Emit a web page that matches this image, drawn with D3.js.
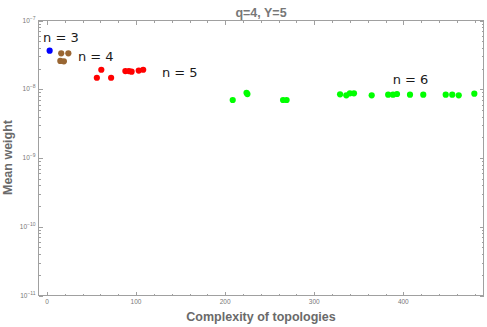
<!DOCTYPE html>
<html>
<head>
<meta charset="utf-8">
<script src="https://cdn.jsdelivr.net/npm/d3@7"></script>
<style>
  html, body { margin: 0; padding: 0; background: #fff; }
  svg { display: block; }
</style>
</head>
<body>
<svg id="chart" width="487" height="327"></svg>
<script>
// ---------------- data ----------------
const title = "q=4, Y=5";
const xLabel = "Complexity of topologies";
const yLabel = "Mean weight";

const seriesNames = ["n3", "n4", "n5", "n6"];
const seriesColors = ["#0000ff", "#996633", "#ff0000", "#00ff00"];

const n3X = [3];
const n3Y = [3.64e-8];

const n4X = [16, 24, 15, 19];
const n4Y = [3.33e-8, 3.33e-8, 2.58e-8, 2.55e-8];

const n5X = [56, 61, 72, 88, 92, 95, 103, 108];
const n5Y = [1.47e-8, 1.92e-8, 1.47e-8, 1.84e-8, 1.84e-8, 1.80e-8, 1.87e-8, 1.92e-8];

const n6X = [208.5, 224, 225, 265, 269, 329, 336, 340, 344.6, 364.5, 383, 388.4, 392.9, 407.5, 422.4, 447.6, 454.9, 462.2, 479.7];
const n6Y = [6.98e-9, 8.9e-9, 8.5e-9, 6.98e-9, 6.98e-9, 8.45e-9, 8.16e-9, 8.73e-9, 8.73e-9, 8.16e-9, 8.34e-9, 8.34e-9, 8.53e-9, 8.34e-9, 8.34e-9, 8.34e-9, 8.34e-9, 8.16e-9, 8.61e-9];

const labelTexts = ["n = 3", "n = 4", "n = 5", "n = 6"];
const labelX = [-4.4, 34.8, 129, 388];
const labelY = [4.86e-8, 2.58e-8, 1.51e-8, 1.19e-8];

const xDomain = [-9.5, 490];
const yDomain = [1e-11, 1e-7];
const xMajorTicks = [0, 100, 200, 300, 400];
const yMajorExps = [-11, -10, -9, -8, -7];

// ---------------- drawing ----------------
const svg = d3.select("#chart");
const L = 38.5, R = 483.5, T = 20.5, B = 295.5;

const x = d3.scaleLinear().domain(xDomain).range([L, R]);
const y = d3.scaleLog().domain(yDomain).range([B, T]);

const axisColor = "#a0a0a0";
const tickColor = "#a0a0a0";
const labelColor = "#6a6a6a";

// minor ticks
const xMinor = d3.range(0, 500, 20).filter(v => v >= xDomain[0] && v <= xDomain[1] && !xMajorTicks.includes(v));
const yMinor = [];
for (let e = -11; e < -7; e++) for (let m = 2; m <= 9; m++) yMinor.push(m * Math.pow(10, e));

const tickG = svg.append("g").attr("stroke", tickColor).attr("stroke-width", 1).attr("shape-rendering", "crispEdges");

// x ticks bottom & top
function xTicks(vals, len) {
  vals.forEach(v => {
    const px = Math.round(x(v)) + 0.5;
    tickG.append("line").attr("x1", px).attr("x2", px).attr("y1", B).attr("y2", B - len);
    tickG.append("line").attr("x1", px).attr("x2", px).attr("y1", T).attr("y2", T + len);
  });
}
xTicks(xMajorTicks, 4);
xTicks(xMinor, 2);

function yTicks(vals, len) {
  vals.forEach(v => {
    const py = Math.round(y(v)) + 0.5;
    tickG.append("line").attr("x1", L).attr("x2", L + len).attr("y1", py).attr("y2", py);
    tickG.append("line").attr("x1", R).attr("x2", R - len).attr("y1", py).attr("y2", py);
  });
}
yTicks(yMajorExps.map(e => Math.pow(10, e)), 4);
yTicks(yMinor, 2);

// frame
svg.append("rect")
  .attr("x", L).attr("y", T).attr("width", R - L).attr("height", B - T)
  .attr("fill", "none").attr("stroke", axisColor).attr("stroke-width", 1)
  .attr("shape-rendering", "crispEdges");

// x tick labels
svg.append("g").selectAll("text").data(xMajorTicks).join("text")
  .attr("x", d => x(d)).attr("y", 304)
  .attr("text-anchor", "middle")
  .attr("font-family", "Liberation Sans, Arial, sans-serif")
  .attr("font-size", 6.5).attr("fill", "#777")
  .text(d => d);

// y tick labels
const yl = svg.append("g").selectAll("text").data(yMajorExps).join("text")
  .attr("x", 35.5).attr("y", d => y(Math.pow(10, d)) + 2)
  .attr("text-anchor", "end")
  .attr("font-family", "Liberation Sans, Arial, sans-serif")
  .attr("font-size", 6.5).attr("fill", "#777");
yl.append("tspan").text("10");
yl.append("tspan").attr("dy", -3).attr("font-size", 5).text(d => "\u2212" + Math.abs(d));

// points
const allSeries = [[n3X, n3Y], [n4X, n4Y], [n5X, n5Y], [n6X, n6Y]];
allSeries.forEach(([xs, ys], i) => {
  const pts = xs.map((v, j) => ({ x: v, y: ys[j] }));
  svg.append("g").attr("class", seriesNames[i]).selectAll("circle").data(pts).join("circle")
    .attr("cx", d => x(d.x)).attr("cy", d => y(d.y)).attr("r", 3.1)
    .attr("fill", seriesColors[i]);
});

// n labels
svg.append("g").selectAll("text").data(labelTexts).join("text")
  .attr("x", (d, i) => x(labelX[i])).attr("y", (d, i) => y(labelY[i]))
  .attr("font-family", "DejaVu Sans, sans-serif")
  .attr("font-size", 13).attr("fill", "#1a1a1a")
  .text(d => d);

// title
svg.append("text")
  .attr("x", (L + R) / 2).attr("y", 16.5)
  .attr("text-anchor", "middle")
  .attr("font-family", "Liberation Sans, Arial, sans-serif")
  .attr("font-weight", "bold").attr("font-size", 12.5).attr("fill", "#777")
  .text(title);

// axis labels
svg.append("text")
  .attr("x", (L + R) / 2).attr("y", 321)
  .attr("text-anchor", "middle")
  .attr("font-family", "Liberation Sans, Arial, sans-serif")
  .attr("font-weight", "bold").attr("font-size", 12.5).attr("fill", labelColor)
  .text(xLabel);

svg.append("text")
  .attr("transform", "translate(12,157.5) rotate(-90)")
  .attr("text-anchor", "middle")
  .attr("font-family", "Liberation Sans, Arial, sans-serif")
  .attr("font-weight", "bold").attr("font-size", 12.5).attr("fill", labelColor)
  .text(yLabel);
</script>
</body>
</html>
